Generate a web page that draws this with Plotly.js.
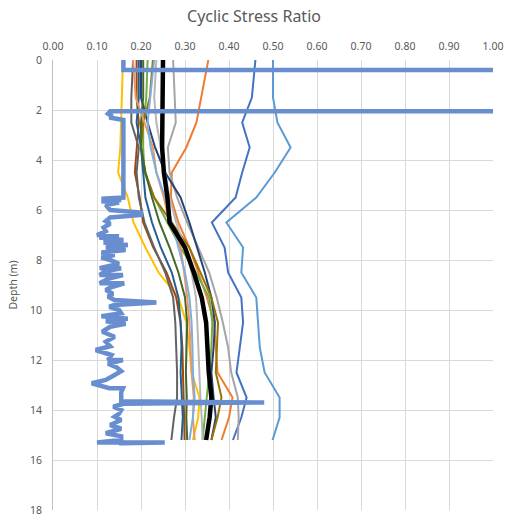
<!DOCTYPE html>
<html>
<head>
<meta charset="utf-8">
<script src="https://cdn.plot.ly/plotly-3.0.1.min.js"></script>
<style>
  html, body { margin: 0; padding: 0; background: #fff; }
  #chart { width: 508px; height: 522px; }
</style>
</head>
<body>
<div id="chart"></div>
<script>
// depth of the readings for the individual profiles (m)
const depthGrid = [0, 1.5, 2.5, 3.5, 4.5, 5.5, 6.5, 7.5, 8.5, 9.5, 10.5, 11.5, 12.5, 13.5, 14.3, 15.2];

// CSR profiles (one per curve)
const csrBlue      = [0.46, 0.452, 0.43, 0.447, 0.43, 0.415, 0.361, 0.39, 0.398, 0.428, 0.432, 0.424, 0.417, 0.44, 0.428, 0.409];
const csrOrange    = [0.353, 0.337, 0.326, 0.303, 0.27, 0.268, 0.285, 0.31, 0.33, 0.35, 0.366, 0.37, 0.374, 0.408, 0.40, 0.383];
const csrGray      = [0.273, 0.277, 0.279, 0.261, 0.265, 0.282, 0.305, 0.33, 0.355, 0.372, 0.386, 0.398, 0.405, 0.42, 0.422, 0.42];
const csrYellow    = [0.159, 0.157, 0.155, 0.153, 0.148, 0.17, 0.183, 0.21, 0.24, 0.285, 0.303, 0.31, 0.315, 0.333, 0.33, 0.318];
const csrLightBlue = [0.50, 0.50, 0.51, 0.54, 0.504, 0.462, 0.394, 0.432, 0.428, 0.462, 0.466, 0.47, 0.481, 0.515, 0.515, 0.499];
const csrGreen     = [0.215, 0.212, 0.205, 0.205, 0.208, 0.23, 0.26, 0.29, 0.325, 0.355, 0.362, 0.36, 0.355, 0.35, 0.345, 0.34];
const csrDarkBlue  = [0.2, 0.2, 0.215, 0.232, 0.255, 0.29, 0.31, 0.328, 0.345, 0.36, 0.368, 0.365, 0.36, 0.365, 0.37, 0.36];
const csrBrown     = [0.19, 0.19, 0.195, 0.19, 0.186, 0.197, 0.205, 0.228, 0.258, 0.28, 0.29, 0.294, 0.296, 0.298, 0.298, 0.299];
const csrDarkGray  = [0.182, 0.178, 0.178, 0.195, 0.19, 0.195, 0.208, 0.23, 0.255, 0.273, 0.278, 0.28, 0.282, 0.282, 0.275, 0.269];
const csrOlive     = [0.227, 0.22, 0.205, 0.2, 0.21, 0.23, 0.27, 0.31, 0.335, 0.36, 0.375, 0.372, 0.37, 0.383, 0.374, 0.36];
const csrNavy      = [0.195, 0.195, 0.19, 0.2, 0.205, 0.21, 0.225, 0.245, 0.27, 0.285, 0.29, 0.292, 0.29, 0.293, 0.295, 0.292];
const csrDarkGreen = [0.205, 0.205, 0.2, 0.2, 0.21, 0.225, 0.242, 0.265, 0.285, 0.3, 0.305, 0.303, 0.302, 0.304, 0.303, 0.305];
const csrLtOrange  = [0.182, 0.188, 0.208, 0.227, 0.235, 0.252, 0.265, 0.29, 0.298, 0.305, 0.31, 0.312, 0.315, 0.32, 0.318, 0.322];
const csrLtGray    = [0.235, 0.23, 0.235, 0.245, 0.255, 0.265, 0.28, 0.3, 0.315, 0.325, 0.328, 0.33, 0.333, 0.335, 0.338, 0.34];
const csrSkyBlue   = [0.23, 0.22, 0.215, 0.222, 0.235, 0.255, 0.27, 0.285, 0.3, 0.31, 0.315, 0.317, 0.318, 0.322, 0.318, 0.31];
const csrAverage   = [0.25, 0.25, 0.249, 0.248, 0.252, 0.26, 0.265, 0.30, 0.32, 0.338, 0.348, 0.351, 0.354, 0.36, 0.356, 0.348];

// CPT based profile (values above 1 run off the chart)
const cptDepth = [0, 0.4, 0.4, 2.05, 2.05, 2.15, 2.25, 2.3, 2.4, 5.5,
  5.55, 5.6, 5.65, 5.7, 5.8, 5.9, 6.0, 6.1, 6.2, 6.3, 6.45, 6.55, 6.7, 6.85,
  7.0, 7.05, 7.1, 7.2, 7.3, 7.4, 7.5, 7.6, 7.7, 7.8, 7.9, 8.0, 8.15,
  8.33, 8.33, 8.45, 8.6, 8.6, 8.75, 8.93, 8.93, 9.1, 9.2, 9.35, 9.47, 9.6, 9.7, 9.8, 9.87,
  10.0, 10.13, 10.25, 10.35, 10.45, 10.55, 10.67, 10.87, 11.07, 11.27, 11.45, 11.6, 11.8,
  12.0, 12.0, 12.15, 12.3, 12.45, 12.6, 12.8, 12.93, 13.13, 13.13, 13.3, 13.47, 13.65,
  13.7, 13.75, 13.87, 14.0, 14.15, 14.27, 14.4, 14.6, 14.75, 14.93, 15.05, 15.2, 15.3, 15.3, 15.33, 15.42];
const cptCsr = [0.16, 0.16, 1.2, 1.2, 0.13, 0.125, 0.135, 0.128, 0.16, 0.16,
  0.11, 0.155, 0.11, 0.15, 0.12, 0.125, 0.13, 0.2, 0.2, 0.13, 0.12, 0.13, 0.115, 0.12,
  0.1, 0.15, 0.105, 0.16, 0.115, 0.17, 0.12, 0.165, 0.11, 0.14, 0.11, 0.13, 0.15,
  0.106, 0.155, 0.12, 0.106, 0.159, 0.125, 0.106, 0.162, 0.13, 0.12, 0.136, 0.125, 0.14, 0.235, 0.14, 0.128,
  0.15, 0.155, 0.11, 0.17, 0.12, 0.165, 0.13, 0.112, 0.14, 0.12, 0.13, 0.097, 0.133,
  0.125, 0.159, 0.125, 0.145, 0.155, 0.14, 0.12, 0.088, 0.128, 0.159, 0.155, 0.155, 0.155,
  0.48, 0.16, 0.137, 0.155, 0.15, 0.14, 0.155, 0.13, 0.155, 0.12, 0.155, 0.155, 0.1, 0.254, 0.155, 0.155];

const xTicks = [0, 0.1, 0.2, 0.3, 0.4, 0.5, 0.6, 0.7, 0.8, 0.9, 1.0];
const yTicks = [0, 2, 4, 6, 8, 10, 12, 14, 16, 18];

const profiles = [
  { csr: csrBlue, color: "#4472C4" },
  { csr: csrOrange, color: "#ED7D31" },
  { csr: csrGray, color: "#A5A5A5" },
  { csr: csrYellow, color: "#FFC000" },
  { csr: csrLightBlue, color: "#5B9BD5" },
  { csr: csrGreen, color: "#70AD47" },
  { csr: csrDarkBlue, color: "#264478" },
  { csr: csrBrown, color: "#9E480E" },
  { csr: csrDarkGray, color: "#636363" },
  { csr: csrOlive, color: "#997300" },
  { csr: csrNavy, color: "#255E91" },
  { csr: csrDarkGreen, color: "#43682B" },
  { csr: csrLtOrange, color: "#F1975A" },
  { csr: csrLtGray, color: "#B7B7B7" },
  { csr: csrSkyBlue, color: "#7CAFDD" },
];

const data = profiles.map(p => ({
  x: p.csr,
  y: depthGrid,
  type: "scatter",
  mode: "lines",
  line: { color: p.color, width: 2 },
  hoverinfo: "skip",
}));

data.push({
  x: csrAverage,
  y: depthGrid,
  type: "scatter",
  mode: "lines",
  line: { color: "#000000", width: 4.5 },
});

data.push({
  x: cptCsr,
  y: cptDepth,
  type: "scatter",
  mode: "lines",
  line: { color: "#698ED0", width: 4.5 },
});

const font = "Noto Sans, Open Sans, sans-serif";

const layout = {
  width: 508,
  height: 522,
  showlegend: false,
  paper_bgcolor: "#ffffff",
  plot_bgcolor: "#ffffff",
  margin: { l: 53, r: 15, t: 60, b: 12, pad: 0 },
  font: { family: font, color: "#595959" },
  title: {
    text: "Cyclic Stress Ratio",
    font: { family: font, size: 16, color: "#595959" },
    x: 0.5,
    xref: "container",
    y: 0.968,
    yanchor: "middle",
  },
  xaxis: {
    side: "top",
    range: [0, 1],
    tickvals: xTicks,
    tickformat: ".2f",
    showgrid: true,
    gridcolor: "#D9D9D9",
    zeroline: false,
    showline: false,
    ticks: "",
    ticklabelstandoff: 7,
    tickfont: { size: 10.5, color: "#595959" },
    fixedrange: true,
  },
  yaxis: {
    range: [18, 0],
    tickvals: yTicks,
    showgrid: true,
    gridcolor: "#D9D9D9",
    zeroline: false,
    showline: true,
    linecolor: "#BFBFBF",
    ticks: "",
    ticklabelstandoff: 8,
    tickfont: { size: 10.5, color: "#595959" },
    title: { text: "Depth (m)", font: { size: 10.5, color: "#595959" }, standoff: 10 },
    fixedrange: true,
  },
};

const config = {
  displayModeBar: false,
  staticPlot: true,
};

Plotly.newPlot("chart", data, layout, config);
</script>
</body>
</html>
